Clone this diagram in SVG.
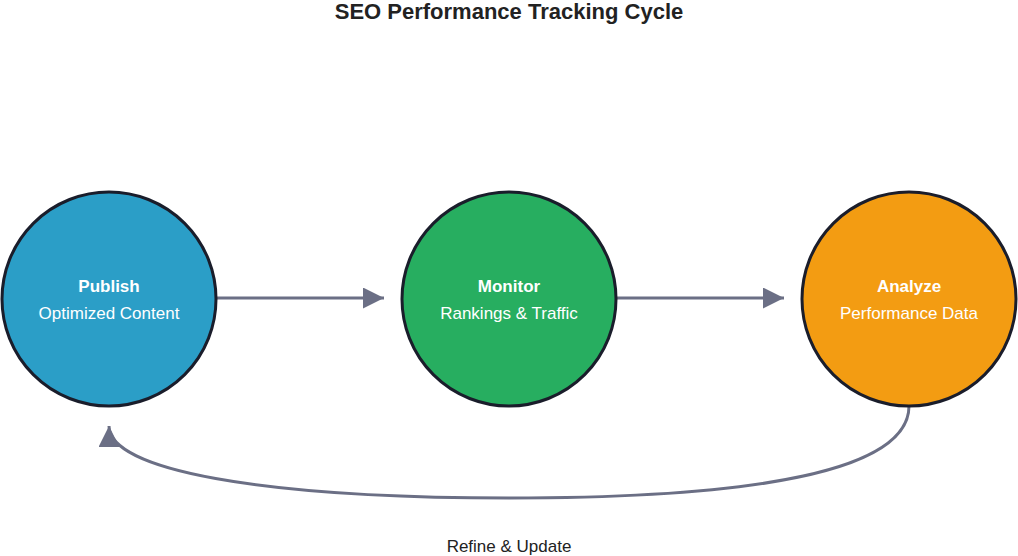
<svg xmlns="http://www.w3.org/2000/svg" width="1018" height="556" viewBox="0 0 1018 556">
<style>
.n{stroke:#1a1d2b;stroke-width:3}
.t{font-family:"Liberation Sans",Arial,sans-serif;fill:#fff;text-anchor:middle;font-size:17px}
.b{font-weight:bold}
.c{fill:none;stroke:#6b6f85;stroke-width:3}
</style>
<defs>
<marker id="a" viewBox="0 0 10 10" refX="10" refY="5" markerWidth="7" markerHeight="7" markerUnits="userSpaceOnUse" orient="auto">
<path d="M0,0L10,5L0,10z" fill="#6b6f85"/>
</marker>
<marker id="m" viewBox="0 0 10 10" refX="10" refY="5" markerWidth="7" markerHeight="7" orient="auto">
<path d="M0,0L10,5L0,10z" fill="#6b6f85"/>
</marker>
</defs>
<rect width="1018" height="556" fill="#fff"/>
<text x="509" y="19" font-family="Liberation Sans,Arial,sans-serif" font-size="22" font-weight="bold" text-anchor="middle" fill="#222">SEO Performance Tracking Cycle</text>
<g id="connectors">
<path class="c" d="M217,298H384" marker-end="url(#m)"/>
<path class="c" d="M617,298H784" marker-end="url(#m)"/>
<path class="c" d="M909,406C909,470 760,498 509,498C260,498 109,470 109,426" marker-end="url(#m)"/>
<text x="509" y="552" font-family="Liberation Sans,Arial,sans-serif" font-size="17" text-anchor="middle" fill="#222">Refine &amp; Update</text>
</g>
<g id="publish"><circle class="n" cx="109" cy="299" r="107" fill="#2b9ec7"/>
<text class="t b" x="109" y="292">Publish</text><text class="t" x="109" y="319">Optimized Content</text></g>
<g id="monitor"><circle class="n" cx="509" cy="299" r="107" fill="#27ae60"/>
<text class="t b" x="509" y="292">Monitor</text><text class="t" x="509" y="319">Rankings &amp; Traffic</text></g>
<g id="analyze"><circle class="n" cx="909" cy="299" r="107" fill="#f39c12"/>
<text class="t b" x="909" y="292">Analyze</text><text class="t" x="909" y="319">Performance Data</text></g>
</svg>
